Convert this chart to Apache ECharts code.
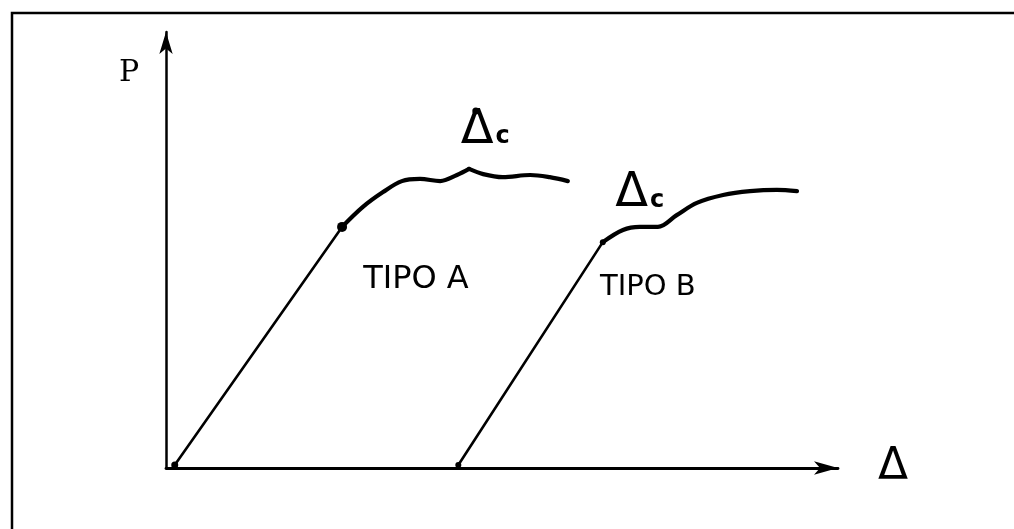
<!DOCTYPE html>
<html>
<head>
<meta charset="utf-8">
<script src="https://cdn.jsdelivr.net/npm/echarts@6/dist/echarts.min.js"></script>
<style>
  html, body { margin: 0; padding: 0; background: #fff; }
  #chart { width: 1014px; height: 529px; }
</style>
</head>
<body>
<div id="chart"></div>
<script>
// curve A: elastic straight part, then plastic plateau with a cusp at Δc
const curveAElastic = [[1.3, 0.7], [26.2, 55.3]]
const curveAPlastic = [
  [26.2, 55.3], [29.3, 59.9], [32.3, 63.3], [35.1, 65.8], [37.8, 66.3],
  [40.8, 65.8], [43.3, 67.2], [45.1, 68.6], [47.2, 67.4], [50.1, 66.7],
  [54.2, 67.2], [57.1, 66.7], [59.8, 65.8],
]
const cuspIndexA = 7
// curve B
const curveBElastic = [[43.5, 0.7], [65.0, 51.8]]
const curveBPlastic = [
  [65.0, 51.8], [68.0, 54.6], [70.5, 55.3], [73.2, 55.3], [76.0, 58.0],
  [79.0, 60.8], [82.9, 62.6], [86.9, 63.5], [90.9, 63.8], [93.9, 63.5],
]
// dots drawn on the curves: [x, y, size]
const dots = [[1.3, 0.7, 7], [26.2, 55.3, 10], [43.5, 0.7, 6], [65.0, 51.8, 6], [46.1, 81.9, 7]]
// annotation labels: [x, y, text]
const labels = [
  [47.5, 77.5, '{d|Δ}{c|c}'],
  [70.5, 62.9, '{d|Δ}{c|c}'],
  [37.2, 43.3, '{t|TIPO A}'],
  [71.7, 41.3, '{s|TIPO B}'],
]
const xName = 'Δ'
const yName = 'P'

const ink = '#000'
const chart = echarts.init(document.getElementById('chart'))

function lineSeries(data, width, smooth) {
  return {
    type: 'line',
    data,
    smooth,
    showSymbol: false,
    silent: true,
    clip: false,
    lineStyle: { color: ink, width, cap: 'round', join: 'round' },
  }
}

const noBorder = { textBorderWidth: 0, textBorderColor: 'transparent', textShadowBlur: 0 }

chart.setOption({
  animation: false,
  backgroundColor: '#fff',
  grid: { left: 166, right: 176, top: 32, bottom: 61 },
  xAxis: {
    type: 'value', min: 0, max: 100,
    name: xName, nameLocation: 'end', nameGap: 40,
    nameTextStyle: { color: ink, fontSize: 44, fontFamily: 'DejaVu Sans' },
    axisLine: { onZero: false, symbol: ['none', 'arrow'], symbolSize: [10, 24], lineStyle: { color: ink, width: 2.8 } },
    axisTick: { show: false }, axisLabel: { show: false }, splitLine: { show: false },
  },
  yAxis: {
    type: 'value', min: 0, max: 100,
    axisLine: { onZero: false, symbol: ['none', 'arrow'], symbolSize: [10, 22], lineStyle: { color: ink, width: 2.5 } },
    axisTick: { show: false }, axisLabel: { show: false }, splitLine: { show: false },
  },
  graphic: [
    { type: 'rect', shape: { x: 12, y: 13, width: 1100, height: 600 }, style: { fill: 'none', stroke: ink, lineWidth: 2.5 } },
    { type: 'text', left: 119, top: 58, style: { text: yName, fill: ink, fontSize: 30, fontFamily: 'DejaVu Serif' } },
  ],
  series: [
    lineSeries(curveAElastic, 2.6, false),
    lineSeries(curveAPlastic.slice(0, cuspIndexA + 1), 4.2, 0.35),
    lineSeries(curveAPlastic.slice(cuspIndexA), 4.2, 0.35),
    lineSeries(curveBElastic, 2.6, false),
    lineSeries(curveBPlastic, 4.2, 0.35),
    {
      type: 'scatter',
      silent: true,
      data: dots.map(d => ({ value: [d[0], d[1]], symbolSize: d[2] })),
      itemStyle: { color: ink, opacity: 1 },
    },
    {
      type: 'scatter',
      silent: true,
      symbolSize: 0,
      itemStyle: { color: ink, opacity: 1 },
      data: labels.map(d => ({ value: [d[0], d[1]], name: d[2] })),
      label: {
        show: true,
        position: 'inside',
        color: ink,
        ...noBorder,
        formatter: p => p.name,
        rich: {
          d: { fontSize: 48, color: ink, fontFamily: 'DejaVu Sans', ...noBorder },
          c: { fontSize: 24, color: ink, fontWeight: 'bold', fontFamily: 'DejaVu Sans', padding: [14, 0, 0, 2], ...noBorder },
          t: { fontSize: 32, color: ink, fontFamily: 'DejaVu Sans', ...noBorder },
          s: { fontSize: 29, color: ink, fontFamily: 'DejaVu Sans', ...noBorder },
        },
      },
    },
  ],
})
</script>
</body>
</html>
